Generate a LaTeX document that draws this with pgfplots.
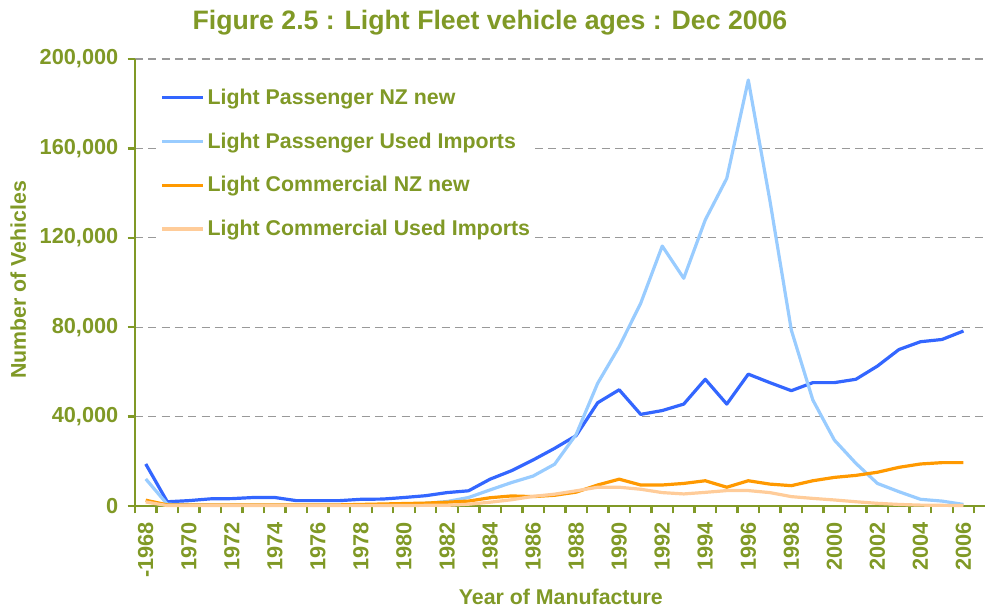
\documentclass[border=0pt]{standalone}
\usepackage{fontspec}
\setmainfont{Liberation Sans}
\usepackage{pgfplots}
\usepackage{pgfplotstable}
\pgfplotsset{compat=1.18}
\definecolor{olive}{RGB}{128,153,38}
\definecolor{lpnz}{RGB}{51,102,255}
\definecolor{lpui}{RGB}{153,204,255}
\definecolor{lcnz}{RGB}{255,153,0}
\definecolor{lcui}{RGB}{255,204,153}

\pgfplotstableread{
x lpnz lpui lcnz lcui
0 18800 12100 2600 1800
1 1900 800 500 200
2 2400 500 500 200
3 3200 400 500 200
4 3300 400 500 200
5 3800 400 500 200
6 3800 400 500 200
7 2400 400 500 200
8 2400 400 500 200
9 2400 400 500 200
10 3000 500 700 200
11 3100 600 900 200
12 3800 800 1100 200
13 4600 1200 1300 300
14 6000 2000 1700 300
15 6800 3800 2200 800
16 12000 7200 3700 1700
17 15800 10500 4500 2800
18 20600 13400 4200 4300
19 25800 18700 4800 5300
20 31500 32000 6200 6800
21 46200 54900 9400 8400
22 52000 71300 12000 8400
23 41000 90700 9400 7500
24 42700 116300 9400 6000
25 45600 101900 10100 5400
26 56700 128000 11300 6100
27 45600 146600 8400 6900
28 59000 190600 11300 6900
29 55200 136900 9800 6000
30 51600 78700 9100 4200
31 55200 47400 11300 3400
32 55200 29500 12800 2700
33 56700 19100 13700 1900
34 62600 10100 15100 1200
35 70000 6400 17300 700
36 73500 3000 18800 400
37 74500 2200 19400 300
38 78300 700 19400 200
}\datatable

\begin{document}
\begin{tikzpicture}
\begin{axis}[
  name=ax,
  at={(0pt,0pt)}, anchor=south west,
  scale only axis,
  width=637.5pt, height=335.25pt,
  xmin=-0.5, xmax=39, ymin=0, ymax=200000,
  axis lines=left,
  axis line style={-, line width=2.2pt, draw=olive},
  tick align=outside,
  xtick={0,2,...,38},
  xticklabels={-1968,1970,1972,1974,1976,1978,1980,1982,1984,1986,1988,1990,1992,1994,1996,1998,2000,2002,2004,2006},
  minor xtick={-0.5,0.5,...,38.5},
  every major x tick/.append style={draw=none},
  every minor x tick/.append style={draw=olive, line width=1.8pt},
  minor tick length=5.5pt,
  ytick={0,40000,80000,120000,160000,200000},
  yticklabels={0,{40,000},{80,000},{120,000},{160,000},{200,000}},
  every major y tick/.append style={draw=olive, line width=1.8pt},
  major tick length=5.5pt,
  scaled y ticks=false,
  ticklabel style={font=\bfseries\fontsize{16.3}{17}\selectfont, text=olive},
  xticklabel style={rotate=90, anchor=east, xshift=-3pt},
  yticklabel style={xshift=-3.5pt},
  ymajorgrids,
  grid style={gray!80, line width=0.8pt, dash pattern=on 6pt off 4pt},
  title={Figure 2.5 : Light Fleet vehicle ages : Dec 2006},
  title style={at={(axis description cs:0.4176,1)}, anchor=base, yshift=16pt,
    font=\bfseries\fontsize{20}{22}\selectfont, text=olive},
  xlabel={Year of Manufacture},
  xlabel style={at={(axis description cs:0.501,0)}, anchor=base, yshift=-73.5pt,
    font=\bfseries\fontsize{16}{18}\selectfont, text=olive},
  ylabel={Number of Vehicles},
  ylabel style={at={(axis description cs:0,0.506)}, anchor=center, yshift=87.5pt,
    font=\bfseries\fontsize{16}{18}\selectfont, text=olive},
  legend style={at={(axis description cs:0.0265,0.946)}, anchor=north west,
    draw=none, fill=white, font=\bfseries\fontsize{16}{18}\selectfont, text=olive,
    row sep=15.8pt, inner sep=2pt},
  legend cell align=left,
  legend image code/.code={\draw[#1, line width=2.4pt] (0pt,0pt) -- (31pt,0pt);},
  no markers,
  every axis plot/.append style={line width=2.4pt, line join=round},
  clip=false,
]
\addplot[lpnz] table[x=x, y=lpnz] {\datatable};
\addlegendentry{Light Passenger NZ new}
\addplot[lpui] table[x=x, y=lpui] {\datatable};
\addlegendentry{Light Passenger Used Imports}
\addplot[lcnz] table[x=x, y=lcnz] {\datatable};
\addlegendentry{Light Commercial NZ new}
\addplot[lcui] table[x=x, y=lcui] {\datatable};
\addlegendentry{Light Commercial Used Imports}
\end{axis}
\pgfresetboundingbox
\path (ax.south west) ++(-101.25pt,-78pt) rectangle ++(740.25pt,457.5pt);
\end{tikzpicture}
\end{document}
